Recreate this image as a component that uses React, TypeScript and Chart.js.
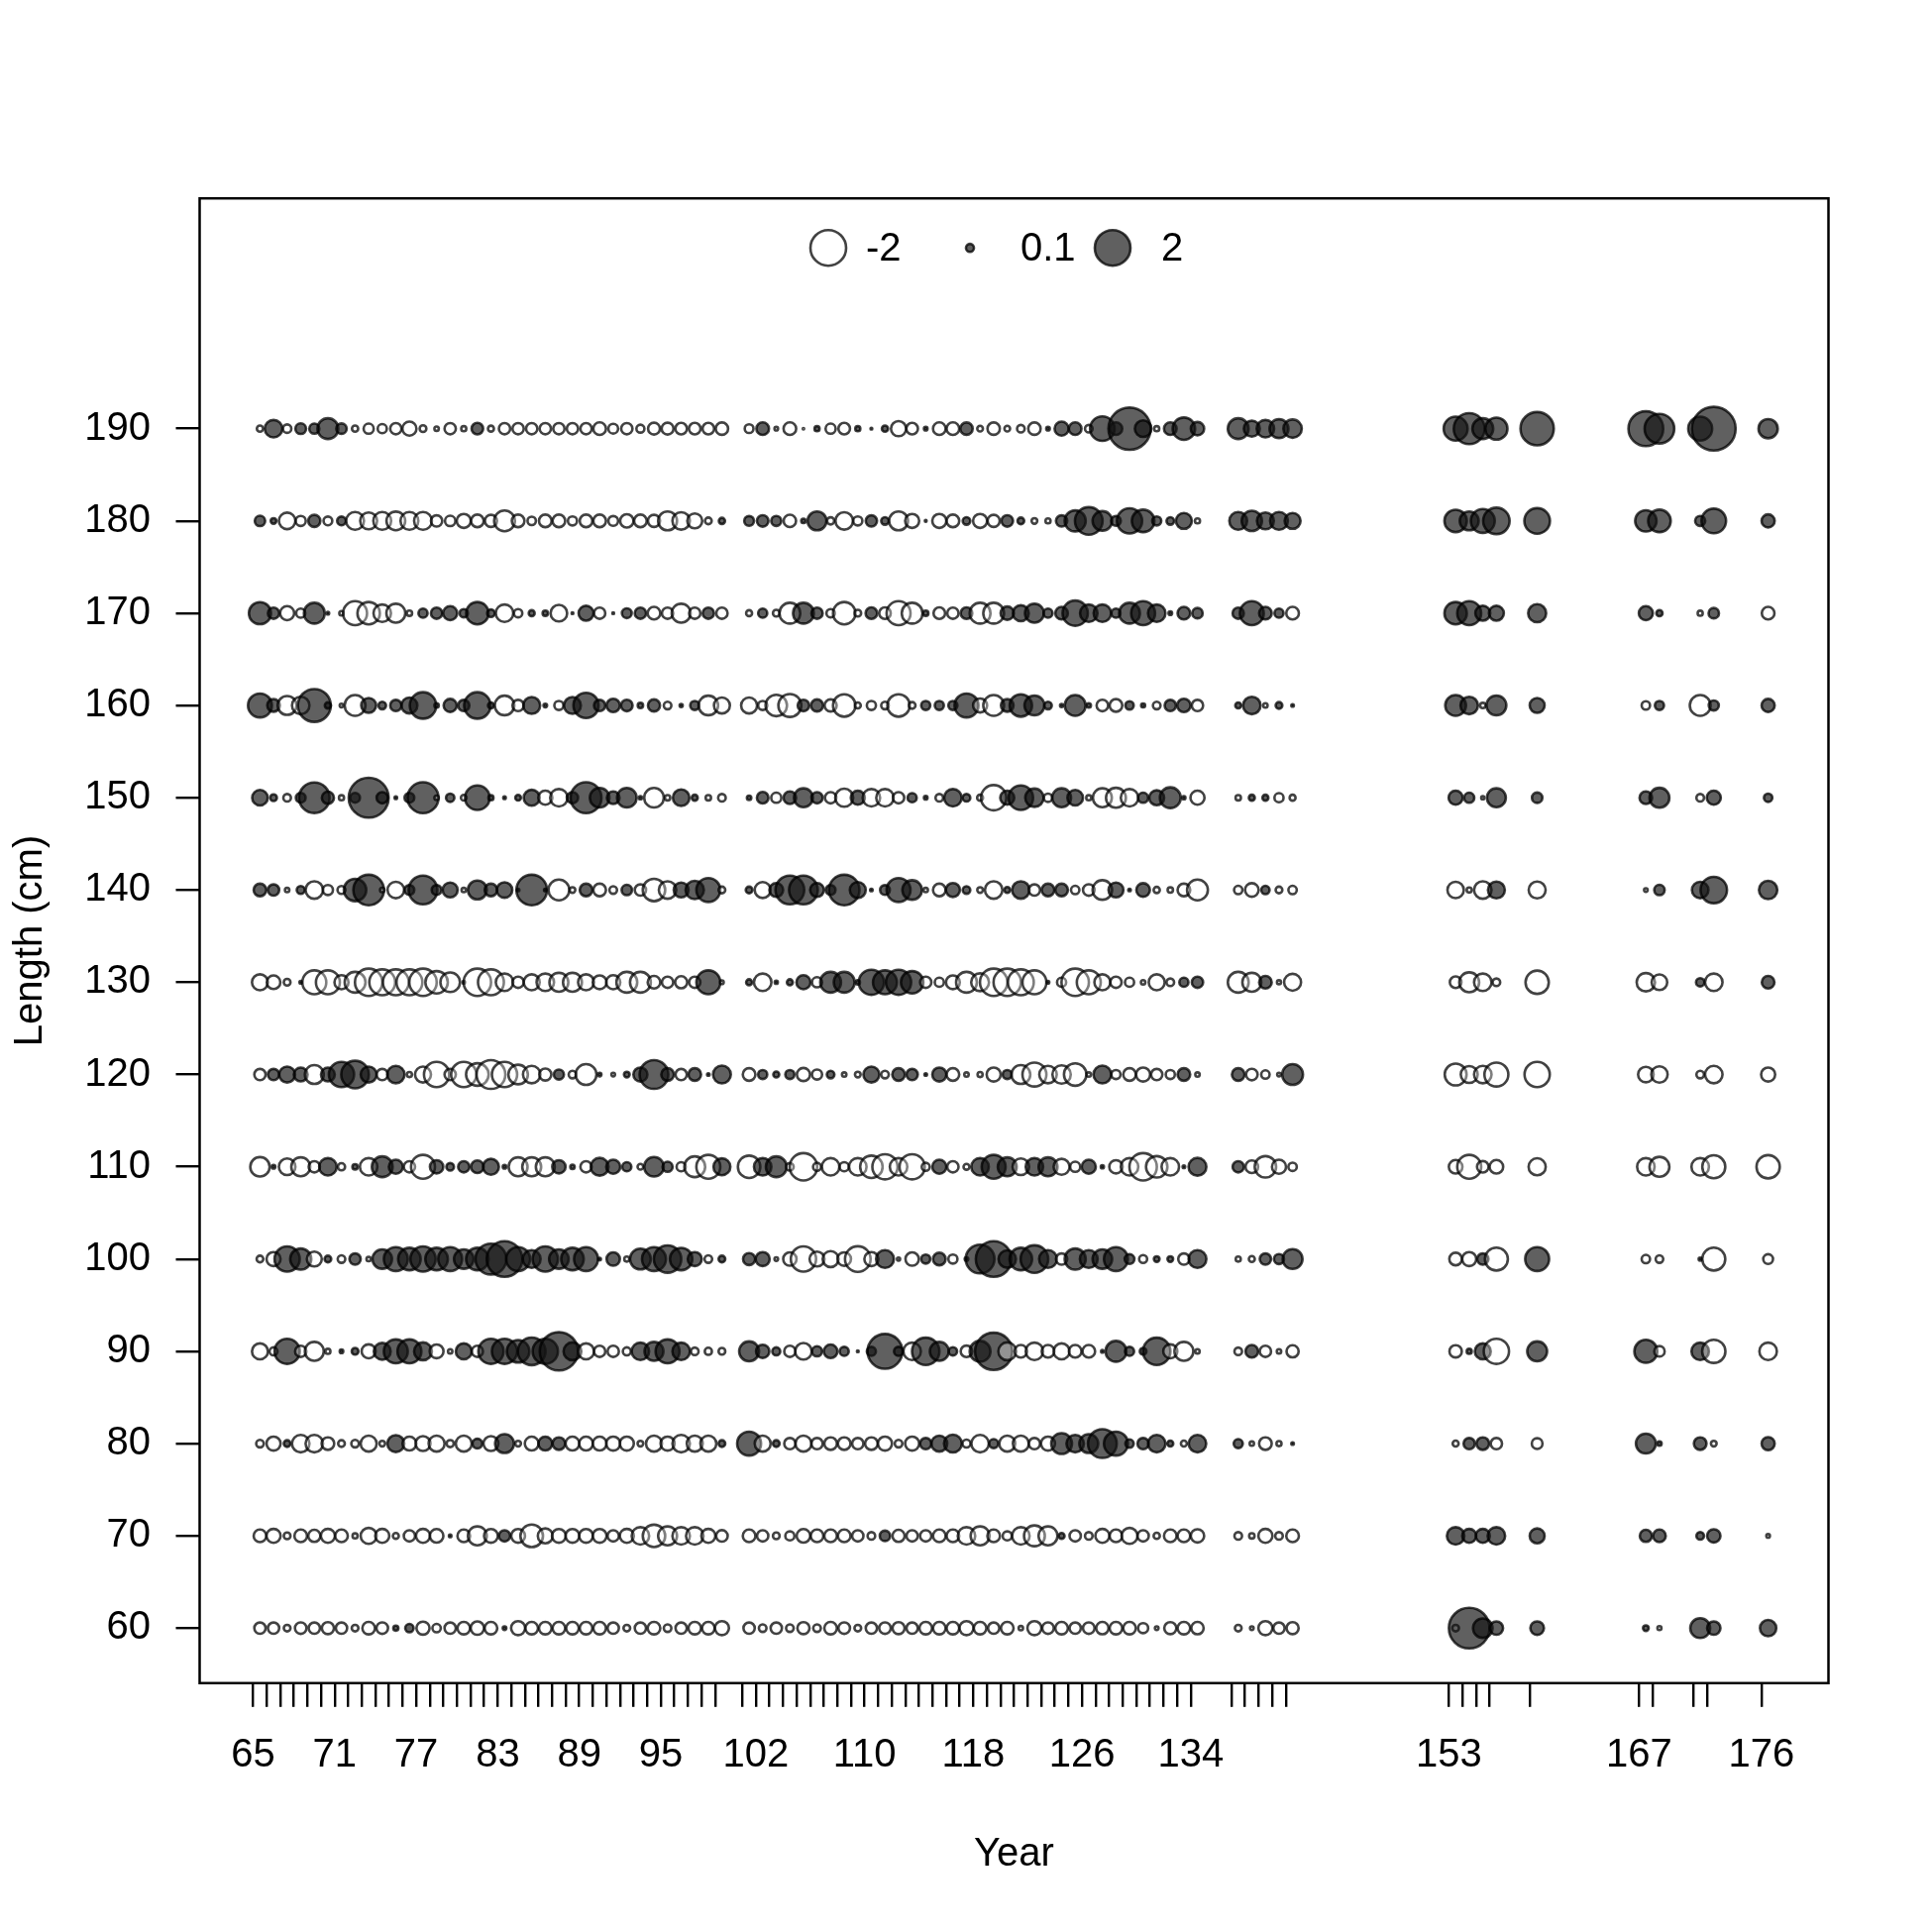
import React, { useEffect, useRef } from 'react';
import { Chart, registerables } from 'chart.js';

Chart.register(...registerables);

// ---------- data ----------
const years = [
  65, 66, 67, 68, 69, 70, 71, 72, 73, 74, 75, 76, 77, 78, 79, 80, 81, 82, 83, 84,
  85, 86, 87, 88, 89, 90, 91, 92, 93, 94, 95, 96, 97, 98, 99,
  101, 102, 103, 104, 105, 106, 107, 108, 109, 110, 111, 112, 113, 114, 115, 116, 117, 118, 119, 120,
  121, 122, 123, 124, 125, 126, 127, 128, 129, 130, 131, 132, 133, 134,
  137, 138, 139, 140, 141,
  153, 154, 155, 156, 159, 167, 168, 171, 172, 176,
];
const labelYears = [65, 71, 77, 83, 89, 95, 102, 110, 118, 126, 134, 153, 167, 176];
const lengths = [60, 70, 80, 90, 100, 110, 120, 130, 140, 150, 160, 170, 180, 190];
const legendValues = [-2, 0.1, 2];

const L190 = [
  -0.06, 0.48, -0.11, 0.18, 0.16, 0.68, 0.17, -0.06, -0.16, -0.13,
  -0.2, -0.31, -0.07, -0.03, -0.2, -0.04, 0.21, -0.055, -0.2, -0.2,
  -0.2, -0.2, -0.2, -0.2, -0.2, -0.25, -0.15, -0.2, -0.1, -0.22,
  -0.22, -0.21, -0.21, -0.21, -0.24,
  -0.12, 0.25, -0.02, -0.25, 0.003, 0.04, -0.16, -0.21, 0.04, 0.005,
  0.06, -0.36, -0.21, 0.02, -0.25, -0.25, 0.24, -0.05, -0.24, -0.05,
  -0.09, -0.24, 0.02, 0.31, 0.25, -0.09, 0.95, 0.25, 2.8, 0.43,
  -0.04, 0.25, 0.79, 0.28,
  0.68, 0.4, 0.48, 0.56, 0.53,
  0.9, 1.5, 0.68, 0.77, 1.74, 1.9, 1.38, 0.9, 3.0, 0.58,
];
const L180 = [
  0.17, 0.05, -0.43, -0.16, 0.23, -0.12, 0.12, -0.5, -0.45, -0.5,
  -0.55, -0.5, -0.5, -0.2, -0.17, -0.31, -0.25, -0.23, -0.68, -0.25,
  -0.11, -0.25, -0.25, -0.13, -0.25, -0.25, -0.15, -0.28, -0.25, -0.23,
  -0.56, -0.48, -0.35, -0.07, 0.06,
  0.15, 0.21, 0.16, -0.24, 0.03, 0.56, -0.08, -0.48, -0.13, 0.2,
  0.09, -0.56, -0.31, 0.005, -0.31, -0.25, 0.09, -0.31, -0.23, 0.21,
  0.07, -0.05, -0.04, 0.2, 0.7, 1.2, 0.6, 0.15, 1.0, 0.8,
  0.13, 0.09, 0.4, -0.04,
  0.5, 0.65, 0.45, 0.5, 0.4,
  0.79, 0.56, 0.9, 1.1, 1.03, 0.72, 0.8, 0.16, 0.95, 0.27,
];
const L170 = [
  0.77, 0.2, -0.31, -0.13, 0.68, 0.01, -0.03, -0.9, -0.79, -0.48,
  -0.56, -0.045, 0.13, 0.2, 0.31, 0.11, 0.79, 0.09, -0.48, -0.11,
  0.055, 0.045, -0.43, 0.005, 0.35, -0.2, 0.005, 0.15, 0.2, -0.25,
  -0.2, -0.56, -0.2, 0.2, -0.2,
  -0.055, 0.13, -0.07, -0.68, 0.68, 0.2, -0.11, -0.79, -0.07, 0.21,
  -0.21, -0.9, -0.68, 0.045, -0.21, -0.2, 0.21, -0.68, -0.68, 0.28,
  0.4, 0.56, 0.13, 0.25, 1.0, 0.48, 0.48, 0.13, 0.68, 0.9,
  0.48, 0.02, 0.25, 0.17,
  0.2, 0.9, 0.25, 0.13, -0.25,
  0.79, 0.9, 0.35, 0.35, 0.51, 0.31, 0.06, -0.04, 0.17, -0.25,
];
const L160 = [
  0.9, 0.25, -0.56, -0.48, 1.7, 0.06, -0.02, -0.68, 0.35, 0.09,
  0.2, 0.4, 1.1, 0.03, 0.27, 0.2, 1.1, 0.055, -0.6, -0.2,
  0.45, 0.02, -0.13, 0.45, 1.0, 0.2, 0.28, 0.21, 0.045, 0.23,
  -0.09, 0.015, 0.13, -0.6, -0.4,
  -0.4, -0.13, -0.72, -0.83, 0.21, 0.23, -0.23, -0.79, -0.055, -0.13,
  -0.09, -0.79, -0.07, 0.13, 0.13, 0.13, 0.9, -0.31, -0.68, 0.25,
  0.79, 0.62, 0.09, 0.015, 0.68, 0.03, -0.21, -0.25, 0.11, 0.025,
  -0.09, 0.2, 0.28, -0.2,
  0.055, 0.48, -0.03, 0.07, 0.01,
  0.68, 0.48, -0.045, 0.62, 0.35, -0.11, 0.13, -0.68, 0.16, 0.27,
];
const L150 = [
  0.38, 0.07, -0.09, 0.15, 1.47, 0.23, -0.04, 0.15, 2.5, 0.2,
  0.01, 0.15, 1.5, -0.03, 0.11, -0.05, 0.95, 0.04, 0.01, 0.05,
  0.4, -0.31, -0.48, 0.2, 1.5, 0.6, 0.25, 0.6, 0.015, -0.6,
  -0.045, 0.43, 0.055, -0.045, -0.09,
  0.03, 0.21, -0.16, 0.25, 0.56, 0.2, -0.2, -0.51, 0.31, -0.48,
  -0.48, -0.2, 0.13, 0.02, -0.09, 0.48, 0.09, -0.055, -1.0, 0.31,
  0.95, 0.53, -0.11, 0.56, 0.38, -0.04, -0.56, -0.62, -0.48, 0.16,
  0.35, 0.68, 0.015, -0.31,
  -0.045, 0.055, 0.055, -0.13, -0.055,
  0.31, 0.16, -0.015, 0.56, 0.17, 0.25, 0.62, -0.09, 0.31, 0.11,
];
const L140 = [
  0.25, 0.2, -0.03, 0.1, -0.48, -0.16, -0.1, 0.79, 1.47, -0.03,
  -0.43, 0.15, 1.3, 0.15, 0.35, -0.03, 0.56, 0.25, 0.38, 0.01,
  1.47, 0.01, -0.68, -0.05, 0.25, -0.25, -0.09, 0.17, -0.2, -0.79,
  -0.48, 0.35, 0.53, 0.9, -0.07,
  0.07, -0.4, 0.3, 1.3, 1.3, 0.3, 0.15, 1.47, 0.4, 0.01,
  0.15, 0.9, 0.6, -0.03, -0.25, 0.31, 0.09, -0.05, -0.48, 0.055,
  0.48, -0.2, 0.25, 0.25, -0.11, -0.21, -0.6, 0.35, 0.01, 0.29,
  -0.06, -0.045, -0.25, -0.68,
  -0.11, -0.29, 0.11, -0.07, -0.11,
  -0.42, -0.04, -0.48, 0.45, -0.45, -0.02, 0.17, 0.43, 1.1, 0.53,
];
const L130 = [
  -0.4, -0.29, -0.07, 0.01, -0.9, -0.9, -0.31, -0.68, -1.18, -1.05,
  -1.05, -1.05, -1.18, -0.79, -0.6, 0.01, -1.18, -1.05, -0.48, -0.2,
  -0.4, -0.48, -0.56, -0.56, -0.4, -0.3, -0.31, -0.68, -0.68, -0.25,
  -0.2, -0.23, -0.2, 0.9, -0.02,
  0.055, -0.48, 0.015, 0.055, 0.31, -0.16, 0.68, 0.68, 0.03, 1.0,
  0.9, 1.0, 0.79, -0.2, -0.13, -0.3, -0.68, -0.5, -1.18, -1.18,
  -1.05, -0.9, 0.01, -0.13, -1.18, -0.9, -0.4, -0.2, -0.13, -0.03,
  -0.4, -0.09, 0.13, 0.2,
  -0.68, -0.56, 0.25, -0.025, -0.45,
  -0.21, -0.62, -0.48, -0.09, -0.85, -0.53, -0.38, 0.11, -0.48, 0.25,
];
const L120 = [
  -0.2, 0.2, 0.4, 0.3, -0.56, 0.3, 1.0, 1.2, 0.4, -0.2,
  0.48, -0.04, -0.4, -1.0, -0.2, -1.0, -0.8, -1.3, -1.0, -0.6,
  -0.48, -0.23, 0.16, -0.09, -0.68, 0.02, -0.02, 0.05, 0.31, 1.3,
  0.25, -0.2, 0.25, 0.01, 0.5,
  -0.25, 0.13, 0.055, 0.13, -0.27, -0.16, 0.09, -0.03, -0.05, 0.4,
  -0.09, 0.25, 0.2, 0.01, 0.31, -0.25, -0.03, -0.04, -0.31, 0.13,
  -0.56, -0.9, -0.48, -0.53, -0.79, -0.03, 0.5, -0.13, -0.25, -0.31,
  -0.2, -0.13, 0.25, -0.03,
  0.25, -0.21, -0.11, -0.02, 0.68,
  -0.75, -0.45, -0.48, -0.9, -1.0, -0.38, -0.42, -0.09, -0.48, -0.31,
];
const L110 = [
  -0.59, 0.02, -0.43, -0.56, -0.2, 0.48, -0.08, 0.045, -0.48, 0.68,
  0.31, -0.2, -0.9, 0.28, 0.09, 0.2, 0.25, 0.4, 0.02, -0.56,
  -0.56, -0.56, 0.28, 0.03, -0.2, 0.5, 0.31, 0.13, -0.05, 0.6,
  0.16, -0.13, -0.68, -0.9, 0.45,
  -0.79, 0.48, 0.68, -0.09, -1.18, -0.1, -0.48, -0.13, -0.48, -0.79,
  -1.0, -0.48, -1.0, -0.1, 0.31, -0.2, -0.055, 0.48, 0.9, 0.56,
  -0.43, 0.48, 0.56, -0.4, -0.16, 0.31, 0.015, -0.28, -0.48, -1.18,
  -0.72, -0.48, 0.01, 0.5,
  0.2, -0.25, -0.72, -0.31, -0.11,
  -0.29, -0.9, -0.21, -0.29, -0.46, -0.48, -0.62, -0.48, -0.83, -0.85,
];
const L100 = [
  -0.07, -0.31, 1.0, 0.7, -0.35, 0.07, -0.09, 0.2, -0.03, 0.6,
  0.9, 0.8, 1.0, 0.8, 0.9, 0.6, 0.8, 1.5, 2.0, 0.9,
  0.5, 1.0, 0.6, 0.8, 0.9, 0.01, 0.28, -0.04, 0.68, 0.9,
  1.18, 0.79, 0.31, -0.09, 0.07,
  0.23, 0.31, -0.02, -0.28, -1.0, -0.35, -0.4, -0.29, -1.03, -0.31,
  0.5, -0.015, -0.28, 0.13, 0.25, -0.13, 0.02, 1.3, 2.0, 0.48,
  0.8, 1.2, 0.5, -0.2, 0.7, 0.5, 0.6, 0.9, 0.15, -0.1,
  0.05, 0.05, -0.2, 0.5,
  -0.04, -0.055, 0.2, 0.16, 0.62,
  -0.25, -0.31, 0.2, -0.83, 0.9, -0.11, -0.09, 0.015, -0.83, -0.15,
];
const L90 = [
  -0.4, -0.1, 1.0, -0.2, -0.56, -0.04, 0.02, 0.07, -0.31, 0.45,
  0.9, 0.9, 0.5, -0.3, -0.03, 0.4, -0.2, 1.0, 1.0, 0.8,
  1.2, 1.0, 2.3, 0.5, -0.4, -0.2, -0.2, -0.1, 0.48, 0.56,
  0.9, 0.48, -0.09, -0.08, -0.07,
  0.62, 0.28, 0.1, -0.2, -0.43, 0.16, 0.29, 0.13, 0.005, 0.13,
  1.9, 0.13, -0.48, 1.18, 0.56, 0.11, -0.21, 0.68, 2.18, -0.5,
  -0.25, -0.48, -0.25, -0.4, -0.25, -0.25, 0.01, 0.68, 0.13, 0.07,
  1.18, -0.31, -0.56, -0.03,
  -0.09, 0.25, -0.2, -0.03, -0.23,
  -0.24, 0.04, 0.4, -1.0, 0.62, 0.83, -0.17, 0.48, -0.85, -0.48,
];
const L80 = [
  -0.09, -0.31, 0.07, -0.48, -0.48, -0.25, -0.07, -0.09, -0.4, -0.05,
  0.45, -0.3, -0.35, -0.4, -0.08, -0.4, 0.15, -0.35, 0.56, -0.05,
  -0.3, 0.3, 0.25, -0.3, -0.3, -0.3, -0.31, -0.31, -0.05, -0.4,
  -0.31, -0.48, -0.4, -0.4, 0.07,
  0.9, -0.4, 0.07, -0.2, -0.4, -0.2, -0.25, -0.25, -0.2, -0.25,
  -0.31, -0.09, -0.31, 0.2, 0.4, 0.5, -0.1, -0.48, 0.13, -0.4,
  -0.4, -0.2, -0.31, 0.68, 0.48, 0.56, 1.3, 0.9, 0.11, 0.2,
  0.48, 0.055, -0.055, 0.48,
  0.13, -0.03, -0.25, -0.04, 0.01,
  -0.055, 0.2, 0.25, -0.2, -0.18, 0.62, 0.03, 0.25, -0.05, 0.27,
];
const L70 = [
  -0.25, -0.31, -0.07, -0.25, -0.23, -0.31, -0.25, -0.04, -0.4, -0.31,
  -0.055, -0.2, -0.31, -0.29, 0.01, -0.25, -0.56, -0.3, 0.2, -0.3,
  -0.8, -0.35, -0.3, -0.3, -0.3, -0.3, -0.2, -0.31, -0.48, -0.79,
  -0.56, -0.48, -0.48, -0.31, -0.21,
  -0.25, -0.2, -0.07, -0.13, -0.29, -0.25, -0.25, -0.25, -0.2, -0.09,
  0.17, -0.23, -0.2, -0.2, -0.25, -0.25, -0.48, -0.56, -0.25, -0.13,
  -0.48, -0.68, -0.56, 0.055, -0.2, -0.09, -0.31, -0.25, -0.4, -0.2,
  -0.06, -0.25, -0.25, -0.28,
  -0.09, -0.045, -0.31, -0.09, -0.25,
  0.48, 0.31, 0.31, 0.48, 0.35, 0.23, 0.25, 0.09, 0.28, -0.02,
];
const L60 = [
  -0.2, -0.2, -0.07, -0.21, -0.2, -0.23, -0.2, -0.07, -0.25, -0.21,
  0.04, 0.11, -0.27, -0.11, -0.2, -0.25, -0.28, -0.25, 0.02, -0.31,
  -0.25, -0.25, -0.25, -0.25, -0.25, -0.25, -0.2, -0.07, -0.2, -0.25,
  -0.09, -0.2, -0.25, -0.25, -0.31,
  -0.2, -0.09, -0.2, -0.09, -0.23, -0.09, -0.25, -0.21, -0.07, -0.2,
  -0.21, -0.23, -0.2, -0.25, -0.25, -0.25, -0.31, -0.25, -0.2, -0.25,
  -0.03, -0.31, -0.21, -0.25, -0.2, -0.21, -0.24, -0.25, -0.25, -0.16,
  -0.02, -0.23, -0.25, -0.24,
  -0.07, -0.02, -0.31, -0.2, -0.23,
  -0.07, 2.6, 0.6, 0.28, 0.29, 0.05, -0.025, 0.62, 0.28, 0.42,
];
const residualRows = [L60, L70, L80, L90, L100, L110, L120, L130, L140, L150, L160, L170, L180, L190];

// ---------- styling ----------
const FONT = 'Liberation Sans, Arial, Helvetica, sans-serif';
const R_PER_SQRT = 12.73;
const POS_FILL = 'rgba(20,20,20,0.68)';
const NEG_FILL = 'rgba(255,255,255,0.32)';
const EDGE = 'rgba(0,0,0,0.74)';
const EDGE_W = 2.6;
const bubbleRadius = (v: number) => R_PER_SQRT * Math.sqrt(Math.abs(v));

const framePlugin = {
  id: 'frameBox',
  afterDraw(chart: any) {
    const { ctx, chartArea } = chart;
    ctx.save();
    ctx.strokeStyle = '#000';
    ctx.lineWidth = 2.5;
    ctx.strokeRect(chartArea.left, chartArea.top, chartArea.right - chartArea.left, chartArea.bottom - chartArea.top);
    ctx.restore();
  },
};

const legendPlugin = {
  id: 'bubbleLegend',
  afterDraw(chart: any) {
    const { ctx, chartArea } = chart;
    const cx = (chartArea.left + chartArea.right) / 2;
    const cy = chartArea.top + 50;
    const circleOff = [-187.5, -44.5, 99.5];
    const textOff = [-149.5, 6.5, 148.5];
    ctx.save();
    legendValues.forEach((v, k) => {
      ctx.beginPath();
      ctx.arc(cx + circleOff[k], cy, bubbleRadius(v), 0, Math.PI * 2);
      ctx.fillStyle = v >= 0 ? POS_FILL : NEG_FILL;
      ctx.fill();
      ctx.lineWidth = EDGE_W;
      ctx.strokeStyle = EDGE;
      ctx.stroke();
      ctx.fillStyle = '#000';
      ctx.font = `40px ${FONT}`;
      ctx.textAlign = 'left';
      ctx.textBaseline = 'middle';
      ctx.fillText(String(v), cx + textOff[k], cy + 2);
    });
    ctx.restore();
  },
};

export default function App() {
  const ref = useRef<HTMLCanvasElement>(null);

  useEffect(() => {
    document.body.style.margin = '0';
    const canvas = ref.current;
    if (!canvas) return;

    const datasets = lengths.map((len, i) => ({
      label: `${len}`,
      data: years.map((yr, j) => ({
        x: yr + 0.5,
        y: len,
        r: bubbleRadius(residualRows[i][j]),
        v: residualRows[i][j],
      })),
      backgroundColor: (ctx: any) => (ctx.raw && ctx.raw.v < 0 ? NEG_FILL : POS_FILL),
      borderColor: EDGE,
      borderWidth: EDGE_W,
      hoverBorderWidth: EDGE_W,
      hoverRadius: 0,
    }));

    const chart = new Chart(canvas, {
      type: 'bubble',
      data: { datasets },
      options: {
        animation: false,
        responsive: false,
        devicePixelRatio: 1,
        events: [],
        layout: { autoPadding: false, padding: { top: 200.2, right: 104.5, left: 0, bottom: 0 } },
        plugins: { legend: { display: false }, tooltip: { enabled: false } },
        scales: {
          x: {
            type: 'linear',
            min: 61.06,
            max: 180.94,
            afterBuildTicks: (scale: any) => {
              scale.ticks = years.map((v) => ({ value: v }));
            },
            afterFit: (scale: any) => {
              scale.height = 251.2;
            },
            ticks: {
              autoSkip: false,
              maxRotation: 0,
              minRotation: 0,
              padding: 25,
              color: '#000',
              font: { family: FONT, size: 40 },
              callback: (v: any) => (labelYears.includes(Number(v)) ? String(v) : ''),
            },
            grid: {
              drawOnChartArea: false,
              drawTicks: true,
              tickLength: 24,
              color: '#000',
              lineWidth: 2.4,
            },
            border: { display: false },
            title: {
              display: true,
              text: 'Year',
              color: '#000',
              font: { family: FONT, size: 40 },
              padding: { top: 0, bottom: 54 },
            },
          },
          y: {
            type: 'linear',
            min: 54.04,
            max: 214.96,
            afterBuildTicks: (scale: any) => {
              scale.ticks = lengths.map((v) => ({ value: v }));
            },
            afterFit: (scale: any) => {
              scale.width = 201.5;
            },
            ticks: {
              autoSkip: false,
              padding: 25.5,
              color: '#000',
              font: { family: FONT, size: 40 },
              callback: (v: any) => String(v),
            },
            grid: {
              drawOnChartArea: false,
              drawTicks: true,
              tickLength: 24,
              color: '#000',
              lineWidth: 2.4,
            },
            border: { display: false },
            title: {
              display: true,
              text: 'Length (cm)',
              color: '#000',
              font: { family: FONT, size: 40 },
              padding: { top: 7, bottom: 0 },
            },
          },
        },
      },
      plugins: [framePlugin, legendPlugin],
    } as any);

    return () => chart.destroy();
  }, []);

  return (
    <canvas
      ref={ref}
      width={1950}
      height={1950}
      style={{ display: 'block', width: '1950px', height: '1950px' }}
    />
  );
}
